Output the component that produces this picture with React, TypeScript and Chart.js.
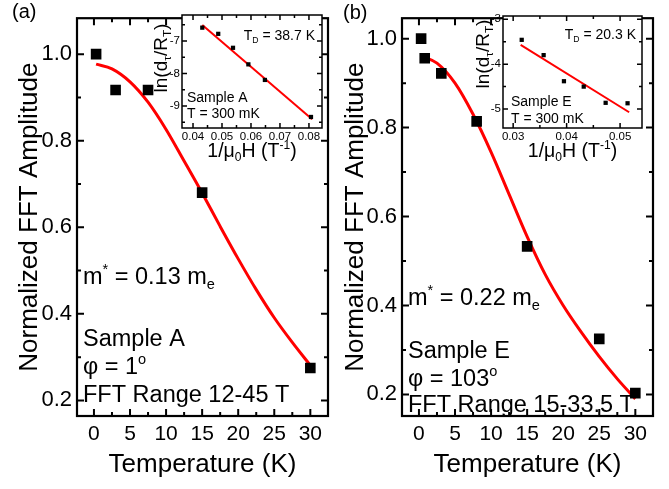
import React, { useEffect, useRef } from "react";
import { Chart, registerables } from "chart.js";
Chart.register(...registerables);

const FONT = "'Liberation Sans', Arial, Helvetica, sans-serif";

// ---------- Panel (a) main data ----------
const tempA = [0.3, 3.0, 7.5, 15.0, 30.0];
const ampA = [1.0, 0.917, 0.917, 0.68, 0.275];
const fitTempA = [0.3, 2.5, 5, 7.5, 10, 12.5, 15, 17.5, 20, 22.5, 25, 27.5, 30];
const fitAmpA = [0.977, 0.966, 0.936, 0.889, 0.826, 0.753, 0.679, 0.602, 0.527, 0.456, 0.391, 0.334, 0.281];

// ---------- Panel (b) main data ----------
const tempB = [0.3, 0.8, 3.1, 8.0, 15.0, 25.0, 30.0];
const ampB = [1.0, 0.956, 0.922, 0.814, 0.533, 0.325, 0.203];
const fitTempB = [0.5, 2.5, 5, 7.5, 10, 12.5, 15, 17.5, 20, 22.5, 25, 27.5, 30];
const fitAmpB = [0.96, 0.945, 0.9, 0.83, 0.745, 0.65, 0.555, 0.47, 0.4, 0.34, 0.285, 0.235, 0.19];

// ---------- Inset (a) data ----------
const invFieldA = [0.0432, 0.0487, 0.0538, 0.0591, 0.0648, 0.0807];
const lnA = [-6.59, -6.78, -7.21, -7.72, -8.2, -9.34];
const fitInvFieldA = [0.0432, 0.0811];
const fitLnA = [-6.51, -9.41];

// ---------- Inset (b) data ----------
const invFieldB = [0.0316, 0.0357, 0.0395, 0.0432, 0.0473, 0.0514];
const lnB = [-3.46, -3.8, -4.38, -4.5, -4.86, -4.87];
const fitInvFieldB = [0.0314, 0.0517];
const fitLnB = [-3.57, -5.07];

// ---------- Ticks ----------
const tempTicks = [0, 5, 10, 15, 20, 25, 30];
const tempMinor = [2.5, 7.5, 12.5, 17.5, 22.5, 27.5];
const ampTicks = [0.2, 0.4, 0.6, 0.8, 1.0];
const ampMinor = [0.3, 0.5, 0.7, 0.9];
const insetXTicksA = [0.04, 0.05, 0.06, 0.07, 0.08];
const insetXMinorA = [0.045, 0.055, 0.065, 0.075];
const insetYTicksA = [-7, -8, -9];
const insetYMinorA = [-6.5, -7.5, -8.5, -9.5];
const insetXTicksB = [0.03, 0.04, 0.05];
const insetXMinorB = [0.035, 0.045];
const insetYTicksB = [-3, -4, -5];
const insetYMinorB = [-3.5, -4.5];

type Seg = { t: string; s?: "sub" | "sup" };

function drawRich(ctx: CanvasRenderingContext2D, segs: Seg[], x: number, y: number, size: number, align: "left" | "center" | "right" = "left") {
  ctx.save();
  ctx.textBaseline = "alphabetic";
  ctx.textAlign = "left";
  ctx.fillStyle = "#000";
  const fontFor = (s?: string) => `${s ? size * 0.62 : size}px ${FONT}`;
  let total = 0;
  for (const g of segs) {
    ctx.font = fontFor(g.s);
    total += ctx.measureText(g.t).width;
  }
  let cx = align === "left" ? x : align === "center" ? x - total / 2 : x - total;
  for (const g of segs) {
    ctx.font = fontFor(g.s);
    const dy = g.s === "sub" ? size * 0.22 : g.s === "sup" ? -size * 0.42 : 0;
    ctx.fillText(g.t, cx, y + dy);
    cx += ctx.measureText(g.t).width;
  }
  ctx.restore();
}

function drawRichRotated(ctx: CanvasRenderingContext2D, segs: Seg[], cx: number, cy: number, size: number) {
  ctx.save();
  ctx.translate(cx, cy);
  ctx.rotate(-Math.PI / 2);
  drawRich(ctx, segs, 0, size * 0.36, size, "center");
  ctx.restore();
}

function framePlugin(o: { lw: number; major: number; minor: number; tlw: number; xMinor: number[]; yMinor: number[]; whiteBg?: boolean }) {
  return {
    id: "frame",
    beforeDatasetsDraw(chart: any) {
      if (!o.whiteBg) return;
      const { ctx, chartArea: a } = chart;
      ctx.save();
      ctx.fillStyle = "#fff";
      ctx.fillRect(a.left, a.top, a.right - a.left, a.bottom - a.top);
      ctx.restore();
    },
    afterDraw(chart: any) {
      const { ctx, chartArea: a, scales } = chart;
      const xs = scales.x;
      const ys = scales.y;
      ctx.save();
      ctx.strokeStyle = "#000";
      ctx.lineWidth = o.tlw;
      ctx.beginPath();
      const xt = (v: number, len: number) => {
        if (v < xs.min || v > xs.max) return;
        const px = xs.getPixelForValue(v);
        ctx.moveTo(px, a.bottom);
        ctx.lineTo(px, a.bottom - len);
        ctx.moveTo(px, a.top);
        ctx.lineTo(px, a.top + len);
      };
      const yt = (v: number, len: number) => {
        if (v < ys.min || v > ys.max) return;
        const py = ys.getPixelForValue(v);
        ctx.moveTo(a.left, py);
        ctx.lineTo(a.left + len, py);
        ctx.moveTo(a.right, py);
        ctx.lineTo(a.right - len, py);
      };
      xs.ticks.forEach((t: any) => xt(t.value, o.major));
      o.xMinor.forEach((v) => xt(v, o.minor));
      ys.ticks.forEach((t: any) => yt(t.value, o.major));
      o.yMinor.forEach((v) => yt(v, o.minor));
      ctx.stroke();
      ctx.lineWidth = o.lw;
      ctx.strokeRect(a.left, a.top, a.right - a.left, a.bottom - a.top);
      ctx.restore();
    },
  };
}

function textPlugin(draw: (ctx: CanvasRenderingContext2D, a: any) => void) {
  return {
    id: "texts",
    afterDraw(chart: any) {
      draw(chart.ctx, chart.chartArea);
    },
  };
}

function pairs(xs: number[], ys: number[]) {
  return xs.map((x, i) => ({ x, y: ys[i] }));
}

function mainConfig(o: {
  x: number[]; y: number[]; fx: number[]; fy: number[];
  yMin: number; yMax: number; yAxisW: number; padRight: number; yTitlePad: number;
  texts: (ctx: CanvasRenderingContext2D, a: any) => void;
}) {
  return {
    type: "scatter",
    data: {
      datasets: [
        { data: pairs(o.x, o.y), pointStyle: "rect", pointRadius: 7.5, backgroundColor: "#000", borderColor: "#000", borderWidth: 0, showLine: false },
        { data: pairs(o.fx, o.fy), showLine: true, borderColor: "#ff0000", borderWidth: 3, pointRadius: 0, cubicInterpolationMode: "monotone", fill: false },
      ],
    },
    options: {
      responsive: false,
      animation: false,
      events: [],
      layout: { autoPadding: false, padding: { left: 0, right: o.padRight, top: 10, bottom: 0 } },
      plugins: { legend: { display: false }, tooltip: { enabled: false } },
      scales: {
        x: {
          type: "linear", min: -2.35, max: 32.45,
          afterBuildTicks: (s: any) => { s.ticks = tempTicks.map((v) => ({ value: v })); },
          afterFit: (s: any) => { s.height = 73; },
          grid: { display: false, drawTicks: false },
          border: { display: false },
          ticks: { color: "#000", font: { size: 21, family: FONT }, padding: 6, maxRotation: 0, autoSkip: false, callback: (v: any) => String(v) },
          title: { display: true, text: "Temperature (K)", color: "#000", font: { size: 26, family: FONT }, padding: { top: 0, bottom: 9 } },
        },
        y: {
          type: "linear", min: o.yMin, max: o.yMax,
          afterBuildTicks: (s: any) => { s.ticks = ampTicks.map((v) => ({ value: v })); },
          afterFit: (s: any) => { s.width = o.yAxisW; },
          grid: { display: false, drawTicks: false },
          border: { display: false },
          ticks: { color: "#000", font: { size: 22, family: FONT }, padding: 5, autoSkip: false, callback: (v: any) => Number(v).toFixed(1) },
          title: { display: true, text: "Normalized FFT Amplitude", color: "#000", font: { size: 26, family: FONT }, padding: { top: o.yTitlePad, bottom: 0 } },
        },
      },
    },
    plugins: [framePlugin({ lw: 2.2, major: 7, minor: 4, tlw: 2, xMinor: tempMinor, yMinor: ampMinor }), textPlugin(o.texts)],
  };
}

function insetConfig(o: {
  x: number[]; y: number[]; fx: number[]; fy: number[];
  xMin: number; xMax: number; yMin: number; yMax: number;
  xTicks: number[]; xMinor: number[]; yTicks: number[]; yMinor: number[];
  yAxisW: number; padRight: number; padTop: number;
  texts: (ctx: CanvasRenderingContext2D, a: any) => void;
}) {
  return {
    type: "scatter",
    data: {
      datasets: [
        { data: pairs(o.x, o.y), pointStyle: "rect", pointRadius: 3, backgroundColor: "#000", borderColor: "#000", borderWidth: 0, showLine: false },
        { data: pairs(o.fx, o.fy), showLine: true, borderColor: "#ff0000", borderWidth: 2, pointRadius: 0, fill: false },
      ],
    },
    options: {
      responsive: false,
      animation: false,
      events: [],
      layout: { autoPadding: false, padding: { left: 0, right: o.padRight, top: o.padTop, bottom: 0 } },
      plugins: { legend: { display: false }, tooltip: { enabled: false } },
      scales: {
        x: {
          type: "linear", min: o.xMin, max: o.xMax,
          afterBuildTicks: (s: any) => { s.ticks = o.xTicks.map((v) => ({ value: v })); },
          afterFit: (s: any) => { s.height = 37; },
          grid: { display: false, drawTicks: false },
          border: { display: false },
          ticks: { color: "#000", font: { size: 11.5, family: FONT }, padding: 2, maxRotation: 0, autoSkip: false, callback: (v: any) => Number(v).toFixed(2) },
        },
        y: {
          type: "linear", min: o.yMin, max: o.yMax,
          afterBuildTicks: (s: any) => { s.ticks = o.yTicks.map((v) => ({ value: v })); },
          afterFit: (s: any) => { s.width = o.yAxisW; },
          grid: { display: false, drawTicks: false },
          border: { display: false },
          ticks: { color: "#000", font: { size: 11.5, family: FONT }, padding: 2, autoSkip: false, callback: (v: any) => String(v) },
        },
      },
    },
    plugins: [framePlugin({ lw: 1.5, major: 5, minor: 3, tlw: 1.5, xMinor: o.xMinor, yMinor: o.yMinor, whiteBg: true }), textPlugin(o.texts)],
  };
}

const lnTitle: Seg[] = [{ t: "ln(d" }, { t: "τ", s: "sub" }, { t: "/R" }, { t: "T", s: "sub" }, { t: ")" }];
const fieldTitle: Seg[] = [{ t: "1/μ" }, { t: "0", s: "sub" }, { t: "H (T" }, { t: "-1", s: "sup" }, { t: ")" }];

function Plot({ left, top, width, height, make }: { left: number; top: number; width: number; height: number; make: () => any }) {
  const ref = useRef<HTMLCanvasElement>(null);
  useEffect(() => {
    const chart = new Chart(ref.current as HTMLCanvasElement, make());
    return () => chart.destroy();
  }, []);
  return <canvas ref={ref} width={width} height={height} style={{ position: "absolute", left, top, width, height }} />;
}

export default function App() {
  return (
    <div style={{ position: "absolute", left: 0, top: 0, width: 669, height: 489, background: "#fff", overflow: "hidden" }}>
      <Plot left={0} top={0} width={335} height={489} make={() => mainConfig({
        x: tempA, y: ampA, fx: fitTempA, fy: fitAmpA, yMin: 0.164, yMax: 1.083, yAxisW: 77, padRight: 7, yTitlePad: 14,
        texts: (ctx, a) => {
          drawRich(ctx, [{ t: "(a)" }], 12, 18, 20);
          const x = a.left + 6;
          drawRich(ctx, [{ t: "m" }, { t: "*", s: "sup" }, { t: " = 0.13 m" }, { t: "e", s: "sub" }], x, 284, 23.5);
          drawRich(ctx, [{ t: "Sample A" }], x, 346, 23.5);
          drawRich(ctx, [{ t: "φ = 1" }, { t: "o", s: "sup" }], x, 374, 23.5);
          drawRich(ctx, [{ t: "FFT Range 12-45 T" }], x, 402, 23.5);
        },
      })} />
      <Plot left={330} top={0} width={339} height={489} make={() => mainConfig({
        x: tempB, y: ampB, fx: fitTempB, fy: fitAmpB, yMin: 0.1515, yMax: 1.046, yAxisW: 72, padRight: 16, yTitlePad: 10,
        texts: (ctx, a) => {
          drawRich(ctx, [{ t: "(b)" }], 13, 19, 20);
          const x = a.left + 6;
          drawRich(ctx, [{ t: "m" }, { t: "*", s: "sup" }, { t: " = 0.22 m" }, { t: "e", s: "sub" }], x, 305, 23.5);
          drawRich(ctx, [{ t: "Sample E" }], x, 358, 23.5);
          drawRich(ctx, [{ t: "φ = 103" }, { t: "o", s: "sup" }], x, 386, 23.5);
          drawRich(ctx, [{ t: "FFT Range 15-33.5 T" }], x, 412, 23.5);
        },
      })} />
      <Plot left={140} top={0} width={190} height={165} make={() => insetConfig({
        x: invFieldA, y: lnA, fx: fitInvFieldA, fy: fitLnA,
        xMin: 0.0362, xMax: 0.0845, yMin: -9.68, yMax: -6.2,
        xTicks: insetXTicksA, xMinor: insetXMinorA, yTicks: insetYTicksA, yMinor: insetYMinorA,
        yAxisW: 42, padRight: 8, padTop: 15,
        texts: (ctx, a) => {
          drawRich(ctx, [{ t: "T" }, { t: "D", s: "sub" }, { t: " = 38.7 K" }], a.right - 7, 40, 14, "right");
          drawRich(ctx, [{ t: "Sample A" }], a.left + 5, 102, 14);
          drawRich(ctx, [{ t: "T = 300 mK" }], a.left + 5, 118, 14);
          drawRichRotated(ctx, lnTitle, 20, 58, 19);
          drawRich(ctx, fieldTitle, (a.left + a.right) / 2, 157, 19.5, "center");
        },
      })} />
      <Plot left={462} top={0} width={190} height={165} make={() => insetConfig({
        x: invFieldB, y: lnB, fx: fitInvFieldB, fy: fitLnB,
        xMin: 0.0281, xMax: 0.0541, yMin: -5.42, yMax: -2.93,
        xTicks: insetXTicksB, xMinor: insetXMinorB, yTicks: insetYTicksB, yMinor: insetYMinorB,
        yAxisW: 41, padRight: 10, padTop: 16,
        texts: (ctx, a) => {
          drawRich(ctx, [{ t: "T" }, { t: "D", s: "sub" }, { t: " = 20.3 K" }], a.right - 6, 39, 14, "right");
          drawRich(ctx, [{ t: "Sample E" }], a.left + 8, 106, 14);
          drawRich(ctx, [{ t: "T = 300 mK" }], a.left + 8, 123, 14);
          drawRichRotated(ctx, lnTitle, 20, 54, 19);
          drawRich(ctx, fieldTitle, (a.left + a.right) / 2, 157, 19.5, "center");
        },
      })} />
    </div>
  );
}
